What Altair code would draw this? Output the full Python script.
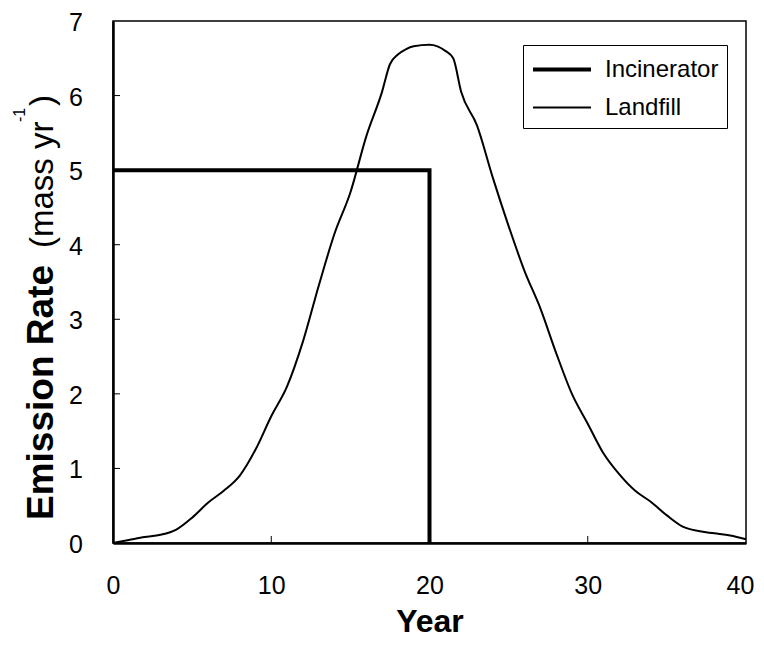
import altair as alt
import pandas as pd

# ---- data ----
landfill_years = [0, 1, 2, 3, 4, 5, 6, 7, 8, 9, 10, 11, 12, 13, 14, 15, 16, 17, 17.5, 18,
                  18.5, 19, 20, 20.5, 21, 21.5, 22, 23, 24, 25, 26, 27, 28, 29, 30, 31, 32,
                  33, 34, 35, 36, 37, 38, 39, 40]
landfill_rate = [0.0, 0.04, 0.08, 0.11, 0.18, 0.34, 0.54, 0.70, 0.9, 1.25, 1.7, 2.1, 2.7,
                 3.45, 4.15, 4.7, 5.45, 6.05, 6.42, 6.55, 6.62, 6.66, 6.68, 6.66, 6.6, 6.5,
                 6.05, 5.6, 4.9, 4.25, 3.65, 3.15, 2.55, 2.0, 1.6, 1.2, 0.92, 0.7, 0.55, 0.37,
                 0.22, 0.16, 0.13, 0.1, 0.05]
incin_years = [0, 20, 20]
incin_rate = [5.0, 5.0, 0.0]

series_names = ["Incinerator", "Landfill"]
x_tick_values = [0, 10, 20, 30, 40]
y_tick_values = [0, 1, 2, 3, 4, 5, 6, 7]
x_inner_ticks = [10, 20, 30]
y_inner_ticks = [1, 2, 3, 4, 5, 6]

FONT = "Liberation Sans"

rows = []
for i, (x, y) in enumerate(zip(incin_years, incin_rate)):
    rows.append({"Year": x, "Rate": y, "Series": "Incinerator", "idx": i})
for i, (x, y) in enumerate(zip(landfill_years, landfill_rate)):
    rows.append({"Year": x, "Rate": y, "Series": "Landfill", "idx": i})
df = pd.DataFrame(rows)

W, H = 633, 522

xscale = alt.Scale(domain=[0, 40], nice=False, zero=False)
yscale = alt.Scale(domain=[0, 7], nice=False, zero=False)

x_axis = alt.Axis(values=x_tick_values, ticks=False, tickSize=0, grid=False,
                  title="Year", format="d",
                  labelFont=FONT, labelFontSize=25, labelColor="black",
                  labelPadding=30, titleFont=FONT, titleFontSize=32,
                  titleFontWeight="bold", titleColor="black", titlePadding=8,
                  domainColor="black", domainWidth=2.5, labelFlush=False,
                  labelOffset=alt.expr("datum.value == 40 ? -6 : 0"))
y_axis = alt.Axis(values=y_tick_values, ticks=False, tickSize=0, grid=False,
                  title=None, labels=False, domainColor="black", domainWidth=2.5)

lines = alt.Chart(df).mark_line(color="black", strokeCap="butt", strokeJoin="miter",
                                interpolate="monotone").encode(
    x=alt.X("Year:Q", scale=xscale, axis=x_axis),
    y=alt.Y("Rate:Q", scale=yscale, axis=y_axis),
    strokeWidth=alt.StrokeWidth("Series:N",
                                scale=alt.Scale(domain=series_names, range=[4, 2]),
                                legend=alt.Legend(title=None, orient="none", legendX=410,
                                                  legendY=24, symbolType="M-1,0H3",
                                                  symbolSize=841, symbolStrokeColor="black",
                                                  symbolFillColor="transparent",
                                                  labelFont=FONT, labelFontSize=24,
                                                  labelColor="black", labelOffset=41,
                                                  rowPadding=10, padding=8,
                                                  strokeColor="black", fillColor="white")),
    order="idx:Q",
    detail="Series:N",
)

xt = alt.Chart(pd.DataFrame({"t": x_inner_ticks})).mark_rule(color="black", strokeWidth=1).encode(
    x=alt.X("t:Q", scale=xscale, axis=x_axis), y=alt.value(H), y2=alt.value(H - 7))
yt = alt.Chart(pd.DataFrame({"t": y_inner_ticks})).mark_rule(color="black", strokeWidth=1).encode(
    y=alt.Y("t:Q", scale=yscale, axis=y_axis), x=alt.value(0), x2=alt.value(7))

# y tick labels, placed through the y scale
ylabels = alt.Chart(pd.DataFrame({"v": y_tick_values})).mark_text(
    align="right", baseline="middle", dy=2, font=FONT, fontSize=25, color="black").encode(
    y=alt.Y("v:Q", scale=yscale, axis=y_axis), x=alt.value(-30),
    text=alt.Text("v:Q", format="d"))

one = pd.DataFrame({"a": [0]})


def label(text, x, y, size, weight="normal"):
    return alt.Chart(one).mark_text(angle=270, align="left", baseline="alphabetic",
                                    font=FONT, fontSize=size, fontWeight=weight,
                                    color="black").encode(
        x=alt.value(x), y=alt.value(y), text=alt.value(text))


ytitle = (label("Emission Rate", -60, 499, 37, "bold")
          + label("(mass yr", -60, 227, 33)
          + label("-1", -88, 101, 16)
          + label(")", -60, 85, 33))

chart = alt.layer(lines, xt, yt, ylabels, ytitle).properties(
    width=W, height=H,
    autosize=alt.AutoSizeParams(type="none"),
    padding={"left": 105, "top": 13, "right": 10, "bottom": 96},
    background="white",
).configure_view(stroke="black", strokeWidth=1.5)

chart.save("out.html", embed_options={"renderer": "svg", "actions": False})
